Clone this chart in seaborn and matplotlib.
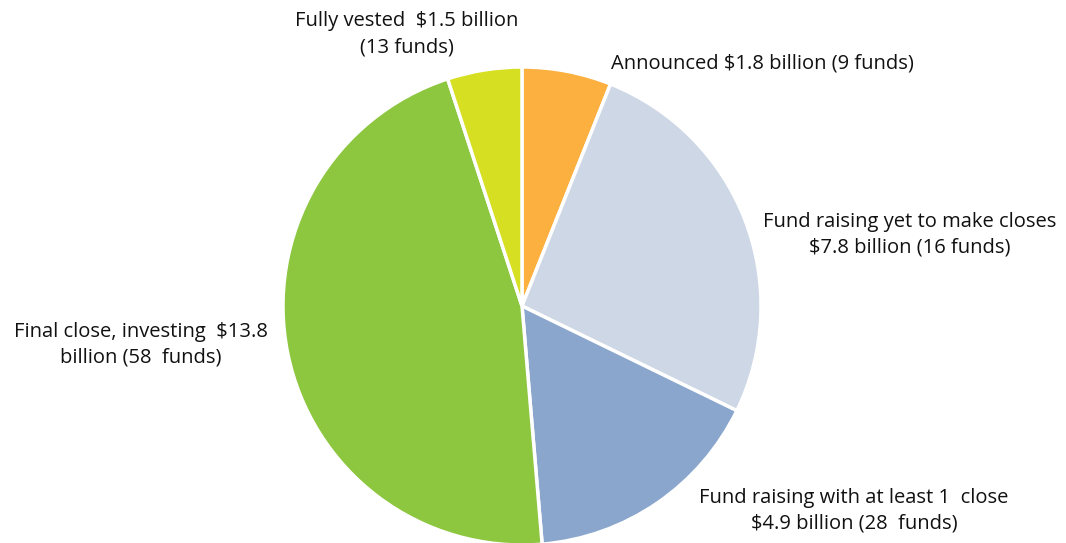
import matplotlib
matplotlib.use("Agg")
import matplotlib.pyplot as plt
import seaborn as sns

# Fund pipeline by stage
stages = [
    "Announced",
    "Fund raising yet to make closes",
    "Fund raising with at least 1 close",
    "Final close, investing",
    "Fully vested",
]
amounts_bn = [1.8, 7.8, 4.9, 13.8, 1.5]
fund_counts = [9, 16, 28, 58, 13]
labels = [
    "Announced $1.8 billion (9 funds)",
    "Fund raising yet to make closes\n$7.8 billion (16 funds)",
    "Fund raising with at least 1  close\n$4.9 billion (28  funds)",
    "Final close, investing  $13.8\nbillion (58  funds)",
    "Fully vested  $1.5 billion\n(13 funds)",
]
colors = ["#FBB040", "#CDD7E5", "#8AA6CC", "#8DC63F", "#D7DF23"]

sns.set_theme(style="white")
plt.rcParams["font.family"] = ["Open Sans", "DejaVu Sans"]

W, H = 1066, 543
fig = plt.figure(figsize=(W / 100, H / 100), dpi=100)
ax = fig.add_axes([0, 0, 1, 1])

ax.pie(
    amounts_bn,
    colors=sns.color_palette(colors),
    startangle=90,
    counterclock=False,
    center=(522, 237),
    radius=239,
    wedgeprops=dict(edgecolor="white", linewidth=2.5),
    frame=True,
)
ax.set_xlim(0, W)
ax.set_ylim(0, H)
ax.set_aspect("equal")
ax.axis("off")

# label anchor points (x, y from top)
label_pos = [(762, 63), (910, 235), (854, 511), (141, 345), (407, 34)]
for text, (x, y) in zip(labels, label_pos):
    ax.text(x, H - y, text, ha="center", va="center", fontsize=14.5,
            color="#111111", linespacing=1.4)

fig.savefig("out.png", dpi=100)
